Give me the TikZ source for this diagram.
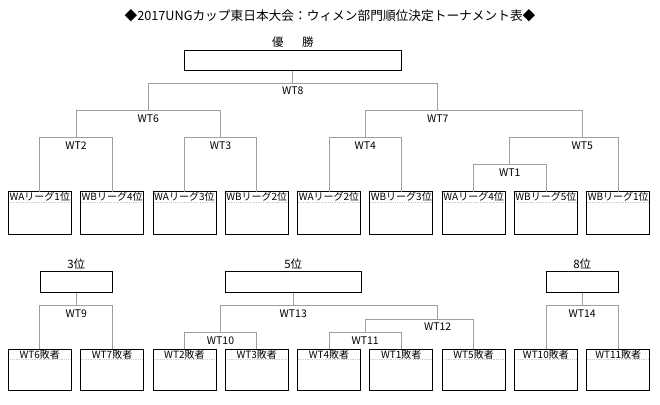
\documentclass[tikz,border=0pt]{standalone}
\usepackage{fontspec}
\setmainfont{Noto Sans CJK JP}
\usepackage{tikz}
\usetikzlibrary{calc}
\usetikzlibrary{positioning}

\tikzset{
  team/.style={draw, line width=0.8pt, outer sep=0pt, minimum width=63pt,
    inner xsep=0pt, inner ysep=1.5pt, text height=7.5pt, text depth=32.3pt,
    font=\fontsize{10}{10}\selectfont,
    path picture={\draw[gray!40, densely dotted]
      ([yshift=-10.5pt]path picture bounding box.north west) --
      ([yshift=-10.5pt]path picture bounding box.north east);}},
  loser/.style={team, text depth=30.7pt},
  rankbox/.style={draw, line width=0.8pt, minimum height=20.6pt, inner sep=0pt},
  rank/.style={font=\fontsize{11.5}{12}\selectfont, inner sep=1pt},
  match/.style={below=1.5pt, inner sep=2pt, font=\fontsize{10.5}{11}\selectfont},
  bracket/.style={draw=gray!75, line width=0.7pt},
}

\begin{document}
\begin{tikzpicture}[x=1pt, y=-1pt]
\useasboundingbox (0,0) rectangle (660,404);

\node[font=\fontsize{12.7}{13}\selectfont] (title) at (330,16)
  {◆2017UNGカップ東日本大会：ウィメン部門順位決定トーナメント表◆};

% final
\node[rankbox, minimum width=217.7pt] (champ) at (292.8,60.3) {};
\node[rank, above=1pt of champ] (champlbl) {優\hspace{1.6em}勝};

% main draw
\node[team, anchor=north west] (wa1) at (8.3,191.7) {WAリーグ1位};
\node[team, right=9.3pt of wa1] (wb4) {WBリーグ4位};
\node[team, right=9.3pt of wb4] (wa3) {WAリーグ3位};
\node[team, right=9.3pt of wa3] (wb2) {WBリーグ2位};
\node[team, right=9.3pt of wb2] (wa2) {WAリーグ2位};
\node[team, right=9.3pt of wa2] (wb3) {WBリーグ3位};
\node[team, right=9.3pt of wb3] (wa4) {WAリーグ4位};
\node[team, right=9.3pt of wa4] (wb5) {WBリーグ5位};
\node[team, right=9.3pt of wb5] (wb1) {WBリーグ1位};

\coordinate (wt2) at (76.0,137.7);
\coordinate (wt3) at (220.5,137.7);
\coordinate (wt4) at (365.2,137.7);
\coordinate (wt1) at (509.7,164.7);
\coordinate (wt5) at (582.3,137.7);
\coordinate (wt6) at (148.3,110.7);
\coordinate (wt7) at (437.7,110.7);
\coordinate (wt8) at (292.8,83.3);

\draw[bracket] (wa1.north) |- (wt2) (wb4.north) |- (wt2);
\draw[bracket] (wa3.north) |- (wt3) (wb2.north) |- (wt3);
\draw[bracket] (wa2.north) |- (wt4) (wb3.north) |- (wt4);
\draw[bracket] (wa4.north) |- (wt1) (wb5.north) |- (wt1);
\draw[bracket] (wt1) |- (wt5) (wb1.north) |- (wt5);
\draw[bracket] (wt2) |- (wt6) (wt3) |- (wt6);
\draw[bracket] (wt4) |- (wt7) (wt5) |- (wt7);
\draw[bracket] (wt6) |- (wt8) (wt7) |- (wt8);
\draw[bracket] (wt8) -- (champ.south);

\node[match] (lbl1) at (wt1) {WT1};
\node[match] (lbl2) at (wt2) {WT2};
\node[match] (lbl3) at (wt3) {WT3};
\node[match] (lbl4) at (wt4) {WT4};
\node[match] (lbl5) at (wt5) {WT5};
\node[match] (lbl6) at (wt6) {WT6};
\node[match] (lbl7) at (wt7) {WT7};
\node[match] (lbl8) at (wt8) {WT8};

% placings
\node[rankbox, minimum width=72.7pt] (third) at (76.3,282) {};
\node[rank, above=1pt of third] (thirdlbl) {3位};
\node[rankbox, minimum width=135.3pt] (fifth) at (293.3,282) {};
\node[rank, above=1pt of fifth] (fifthlbl) {5位};
\node[rankbox, minimum width=72.3pt] (eighth) at (582.2,282) {};
\node[rank, above=1pt of eighth] (eighthlbl) {8位};

\node[loser, anchor=north west] (l6) at (8.3,349) {WT6敗者};
\node[loser, right=9.3pt of l6] (l7) {WT7敗者};
\node[loser, right=9.3pt of l7] (l2) {WT2敗者};
\node[loser, right=9.3pt of l2] (l3) {WT3敗者};
\node[loser, right=9.3pt of l3] (l4) {WT4敗者};
\node[loser, right=9.3pt of l4] (l1) {WT1敗者};
\node[loser, right=9.3pt of l1] (l5) {WT5敗者};
\node[loser, right=9.3pt of l5] (l10) {WT10敗者};
\node[loser, right=9.3pt of l10] (l11) {WT11敗者};

\coordinate (wt9) at (76.3,305.7);
\coordinate (wt10) at (220.5,332.7);
\coordinate (wt11) at (365.2,332.7);
\coordinate (wt12) at (437.7,319.3);
\coordinate (wt13) at (293.3,305.7);
\coordinate (wt14) at (582.2,305.7);

\draw[bracket] (l6.north) |- (wt9) (l7.north) |- (wt9);
\draw[bracket] (wt9) -- (third.south);
\draw[bracket] (l2.north) |- (wt10) (l3.north) |- (wt10);
\draw[bracket] (l4.north) |- (wt11) (l1.north) |- (wt11);
\draw[bracket] (wt11) |- (wt12) (l5.north) |- (wt12);
\draw[bracket] (wt10) |- (wt13) (wt12) |- (wt13);
\draw[bracket] (wt13) -- (fifth.south);
\draw[bracket] (l10.north) |- (wt14) (l11.north) |- (wt14);
\draw[bracket] (wt14) -- (eighth.south);

\node[match] (lbl9) at (wt9) {WT9};
\node[match] (lbl10) at (wt10) {WT10};
\node[match] (lbl11) at (wt11) {WT11};
\node[match] (lbl12) at (wt12) {WT12};
\node[match] (lbl13) at (wt13) {WT13};
\node[match] (lbl14) at (wt14) {WT14};

\end{tikzpicture}
\end{document}
